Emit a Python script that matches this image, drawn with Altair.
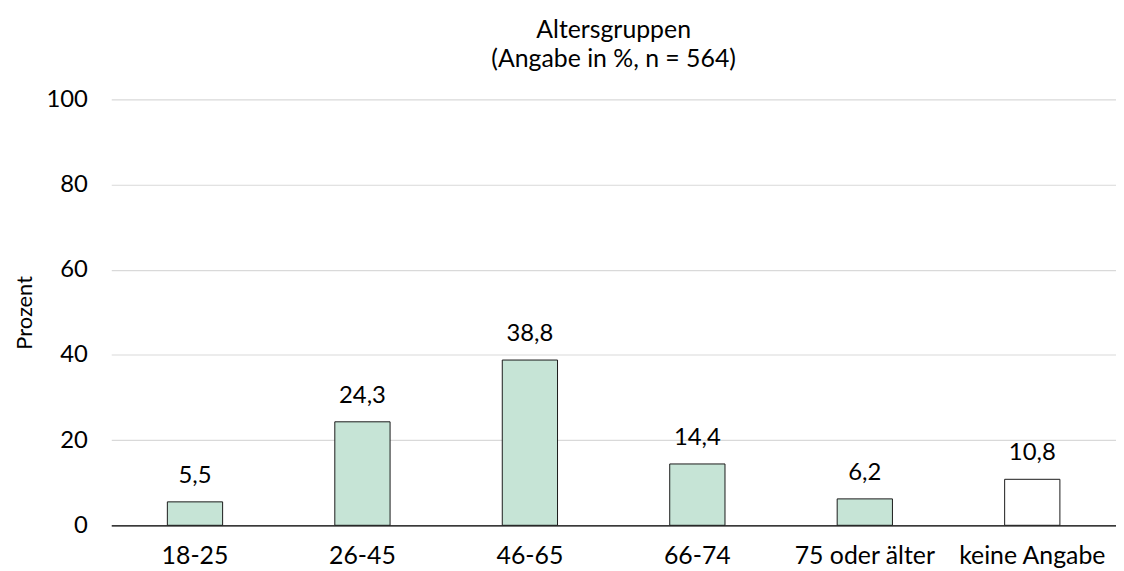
import altair as alt
import pandas as pd

categories = ["18-25", "26-45", "46-65", "66-74", "75 oder älter", "keine Angabe"]
values = [5.5, 24.3, 38.8, 14.4, 6.2, 10.8]
fills = ["#c6e4d6", "#c6e4d6", "#c6e4d6", "#c6e4d6", "#c6e4d6", "#ffffff"]

df = pd.DataFrame({
    "Altersgruppe": categories,
    "Prozent": values,
    "fill": fills,
    "label": [f"{v:.1f}".replace(".", ",") for v in values],
})

FONT = "Lato"
FS = 24

x = alt.X("Altersgruppe:N", sort=categories,
          scale=alt.Scale(paddingInner=0.67, paddingOuter=0.335),
          axis=alt.Axis(title=None, labelAngle=0, labelFontSize=FS + 1, labelFont=FONT,
                        labelColor="#000000", labelPadding=18, ticks=False,
                        domainColor="#000000", domainWidth=1.2, labelOverlap=False))

y = alt.Y("Prozent:Q", scale=alt.Scale(domain=[0, 100]),
          axis=alt.Axis(values=[0, 20, 40, 60, 80, 100], title="Prozent",
                        titleFontSize=FS - 2, titleFont=FONT, titleFontWeight="normal",
                        titleColor="#000000", titlePadding=10,
                        labelFontSize=FS, labelFont=FONT, labelColor="#000000",
                        labelPadding=24, ticks=False, domain=False,
                        grid=True, gridColor="#d9d9d9", gridWidth=1.2))

bars = alt.Chart(df).mark_bar(stroke="#1a1a1a", strokeWidth=1).encode(
    x=x, y=y, fill=alt.Fill("fill:N", scale=None)
)

text = alt.Chart(df).mark_text(baseline="alphabetic", dy=-19, fontSize=FS, font=FONT,
                               color="#000000").encode(
    x=alt.X("Altersgruppe:N", sort=categories), y="Prozent:Q", text="label:N"
)

chart = (bars + text).properties(
    width=1012, height=429,
    title=alt.TitleParams(text=["Altersgruppen", "(Angabe in %, n = 564)"],
                          font=FONT, fontSize=FS + 1, fontWeight="normal",
                          color="#000000", anchor="middle", offset=16, lineHeight=29),
    autosize=alt.AutoSizeParams(type="none"),
    padding={"left": 104, "top": 90, "right": 0, "bottom": 44},
).configure_view(stroke=None)

chart.save("out.html", embed_options={"renderer": "svg", "actions": False})
